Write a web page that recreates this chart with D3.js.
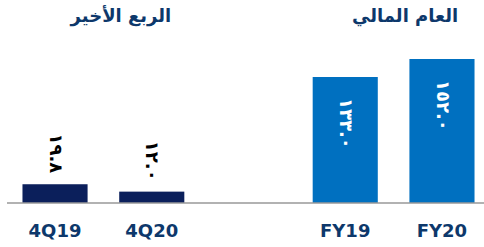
<!DOCTYPE html>
<html><head><meta charset="utf-8">
<script src="https://cdn.jsdelivr.net/npm/d3@7"></script>
<style>body{margin:0;background:#fff}svg{display:block}</style>
</head><body>
<svg id="c" width="484" height="247"></svg>
<script>
const categories = ["4Q19", "4Q20", "", "FY19", "FY20"];
const values = [19.8, 12.0, null, 133.0, 152.0];
const groupTitles = ["الربع الأخير", "العام المالي"];
const groupOf = [0, 0, null, 1, 1];
const barColors = ["#0b1f5b", "#0070c0"];

const svg = d3.select("#c");
const x = d3.scaleBand().domain(categories).range([7, 490]).paddingInner(0.327).paddingOuter(0.16);
const y = d3.scaleLinear().domain([0, 152]).range([203, 59]);
const toAr = s => s.replace(/[0-9]/g, d => "٠١٢٣٤٥٦٧٨٩"[+d]);

const data = categories.map((c, i) => ({c, v: values[i], g: groupOf[i]})).filter(d => d.v != null);

svg.selectAll("rect.bar").data(data).join("rect")
  .attr("x", d => x(d.c)).attr("width", x.bandwidth())
  .attr("y", d => y(d.v)).attr("height", d => y(0) - y(d.v))
  .attr("fill", d => barColors[d.g]);

svg.append("line").attr("x1", 7).attr("x2", 484).attr("y1", y(0)).attr("y2", y(0))
  .attr("stroke", "#999").attr("stroke-width", 1.5);

// value labels (rotated 90°)
data.forEach(d => {
  const cx = x(d.c) + x.bandwidth() / 2;
  const inside = (y(0) - y(d.v)) > 60;
  const ty = inside ? y(d.v) + 21 : y(d.v) - 11;
  svg.append("text")
    .attr("transform", `translate(${cx},${ty}) rotate(90)`)
    .attr("text-anchor", inside ? "start" : "end")
    .attr("dy", "0.3em")
    .attr("font-family", "DejaVu Sans")
    .attr("font-weight", "bold")
    .attr("font-size", 18)
    .attr("fill", inside ? "#fff" : "#000")
    .text(toAr(d.v.toFixed(1)));
});

// category labels
svg.selectAll("text.cat").data(data).join("text")
  .attr("x", d => x(d.c) + x.bandwidth() / 2).attr("y", 237)
  .attr("text-anchor", "middle")
  .attr("font-family", "DejaVu Sans").attr("font-weight", "bold").attr("font-size", 18)
  .attr("fill", "#0d386b").text(d => d.c);

// group titles
[[0, 1], [3, 4]].forEach((pair, gi) => {
  const cx = (x(categories[pair[0]]) + x(categories[pair[1]]) + x.bandwidth()) / 2;
  svg.append("text").attr("x", cx + (gi === 0 ? 17.5 : 11.5)).attr("y", 22)
    .attr("text-anchor", "middle")
    .attr("font-family", "DejaVu Sans").attr("font-weight", "bold").attr("font-size", 18)
    .attr("fill", "#0d386b").attr("direction", "rtl")
    .text(groupTitles[gi]);
});
</script>
</body></html>
